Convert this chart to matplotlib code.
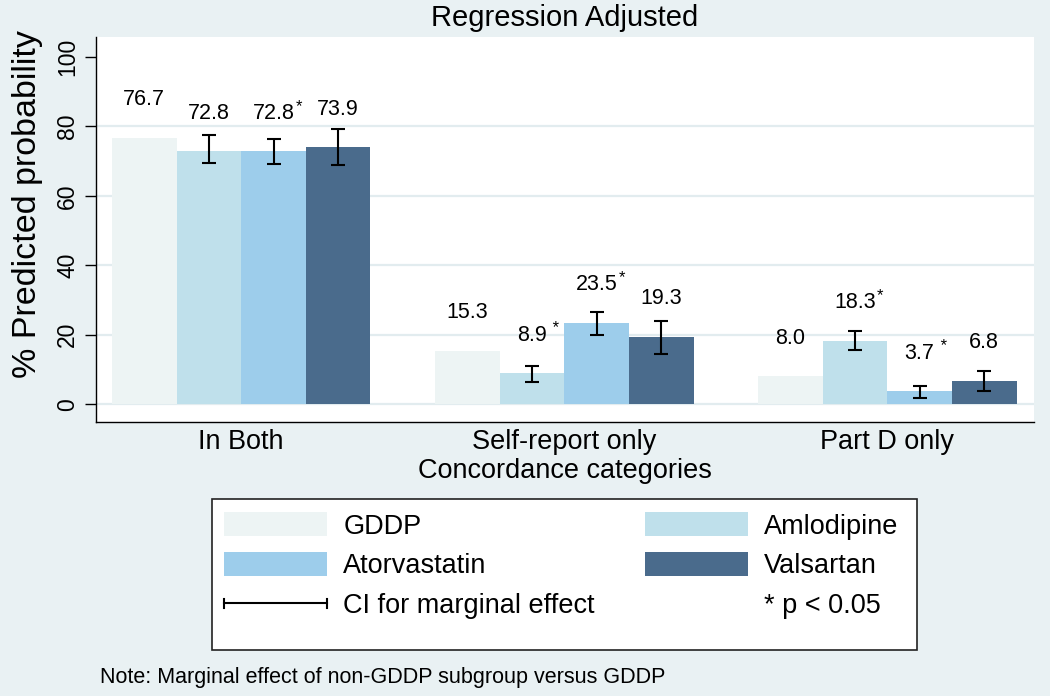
import numpy as np
import matplotlib.pyplot as plt
from matplotlib.patches import Patch, Rectangle
from matplotlib.lines import Line2D
from matplotlib.legend_handler import HandlerBase

plt.rcParams['font.family'] = ['Liberation Sans', 'DejaVu Sans']

# data
categories = ['In Both', 'Self-report only', 'Part D only']
groups = ['GDDP', 'Amlodipine', 'Atorvastatin', 'Valsartan']
colors = ['#edf4f4', '#bfe0eb', '#9dcdeb', '#4a6b8c']

values = np.array([
    [76.7, 72.8, 72.8, 73.9],
    [15.3, 8.9, 23.5, 19.3],
    [8.0, 18.3, 3.7, 6.8],
])
ci_low = np.array([
    [np.nan, 69.4, 69.2, 68.8],
    [np.nan, 6.5, 19.9, 14.4],
    [np.nan, 15.6, 1.9, 3.8],
])
ci_high = np.array([
    [np.nan, 77.4, 76.4, 79.1],
    [np.nan, 11.0, 26.6, 23.9],
    [np.nan, 21.1, 5.3, 9.7],
])
stars = [
    ['', '', '*', ''],
    ['', ' *', '*', ''],
    ['', '*', ' *', ''],
]


class CIHandler(HandlerBase):
    # horizontal bar with end caps for the legend
    def create_artists(self, legend, orig_handle, xdescent, ydescent, width, height, fontsize, trans):
        y = height / 2 - ydescent
        x0, x1 = -xdescent, -xdescent + width
        cap = height * 0.2
        line = Line2D([x0, x1], [y, y], color='black', lw=1.5, transform=trans)
        c0 = Line2D([x0, x0], [y - cap, y + cap], color='black', lw=1.5, transform=trans)
        c1 = Line2D([x1, x1], [y - cap, y + cap], color='black', lw=1.5, transform=trans)
        return [line, c0, c1]


bg = '#e9f1f3'
fig = plt.figure(figsize=(10.5, 6.96), dpi=100, facecolor=bg)
ax = fig.add_axes([96/1050, 1 - 422/696, 938/1050, 385/696])
ax.set_facecolor('white')

group_pos = np.arange(len(categories)) * 5.0
offsets = np.array([-1.5, -0.5, 0.5, 1.5])

# grid
for g in [0, 20, 40, 60, 80]:
    ax.axhline(g, color='#e2ecef', lw=1.6, zorder=0)

for j, name in enumerate(groups):
    x = group_pos + offsets[j]
    ax.bar(x, values[:, j], width=1.0, color=colors[j], zorder=2, label=name)
    if j > 0:
        mid = (ci_low[:, j] + ci_high[:, j]) / 2
        ax.errorbar(x, mid, yerr=(ci_high[:, j] - ci_low[:, j]) / 2, fmt='none',
                    ecolor='black', elinewidth=1.5, capsize=5, capthick=1.5, zorder=3)
    for i in range(len(categories)):
        t = ax.text(x[i], values[i, j] + 11, f'{values[i, j]:.1f}', ha='center', va='center',
                    fontsize=15.5, zorder=4)
        if stars[i][j]:
            ax.annotate(stars[i][j], xy=(1, 0.5), xycoords=t, xytext=(1, 5),
                        textcoords='offset points', ha='left', va='center', fontsize=12)

ax.set_xlim(-2.248, 12.27)
ax.set_ylim(-5.1, 105.7)
ax.set_yticks([0, 20, 40, 60, 80, 100])
ax.set_xticks(group_pos)
ax.set_xticklabels(categories, fontsize=19.5)
ax.tick_params(axis='x', length=0, pad=5)
ax.tick_params(axis='y', length=8, width=1, labelsize=16.5, pad=4)
for lab in ax.get_yticklabels():
    lab.set_rotation(90)
    lab.set_va('center')
ax.spines['top'].set_visible(False)
ax.spines['right'].set_visible(False)
ax.spines['left'].set_linewidth(1)
ax.spines['bottom'].set_linewidth(1)

ax.set_ylabel('% Predicted probability', fontsize=24.5)
ax.yaxis.set_label_coords(-0.056, 0.566)
ax.set_xlabel('Concordance categories', fontsize=19.5, labelpad=2)
ax.set_title('Regression Adjusted', fontsize=21, pad=8)

# legend
fig.patches.append(Rectangle((212/1050, 1 - 650/696), 705/1050, 151/696,
                             transform=fig.transFigure, facecolor='white',
                             edgecolor='#222222', lw=1.2, zorder=0))
ci_handle = Line2D([], [], color='black')
handles = [
    Patch(facecolor=colors[0]), Patch(facecolor=colors[2]), ci_handle,
    Patch(facecolor=colors[1]), Patch(facecolor=colors[3]),
    Patch(facecolor='none', edgecolor='none'),
]
labels = ['GDDP', 'Atorvastatin', 'CI for marginal effect',
          'Amlodipine', 'Valsartan', '* p < 0.05']
fig.legend(handles, labels, ncol=2, loc='upper left',
           bbox_to_anchor=(212/1050, 1 - 500/696), frameon=False, fontsize=19.5,
           handlelength=3.8, handleheight=1.0, handletextpad=0.6, labelspacing=0.45,
           columnspacing=1.85, borderpad=0.45, borderaxespad=0,
           handler_map={ci_handle: CIHandler()})

fig.text(100/1050, 1 - 677/696, 'Note: Marginal effect of non-GDDP subgroup versus GDDP',
         fontsize=15.5, va='center', ha='left')

fig.savefig('out.png', dpi=100, facecolor=bg)
